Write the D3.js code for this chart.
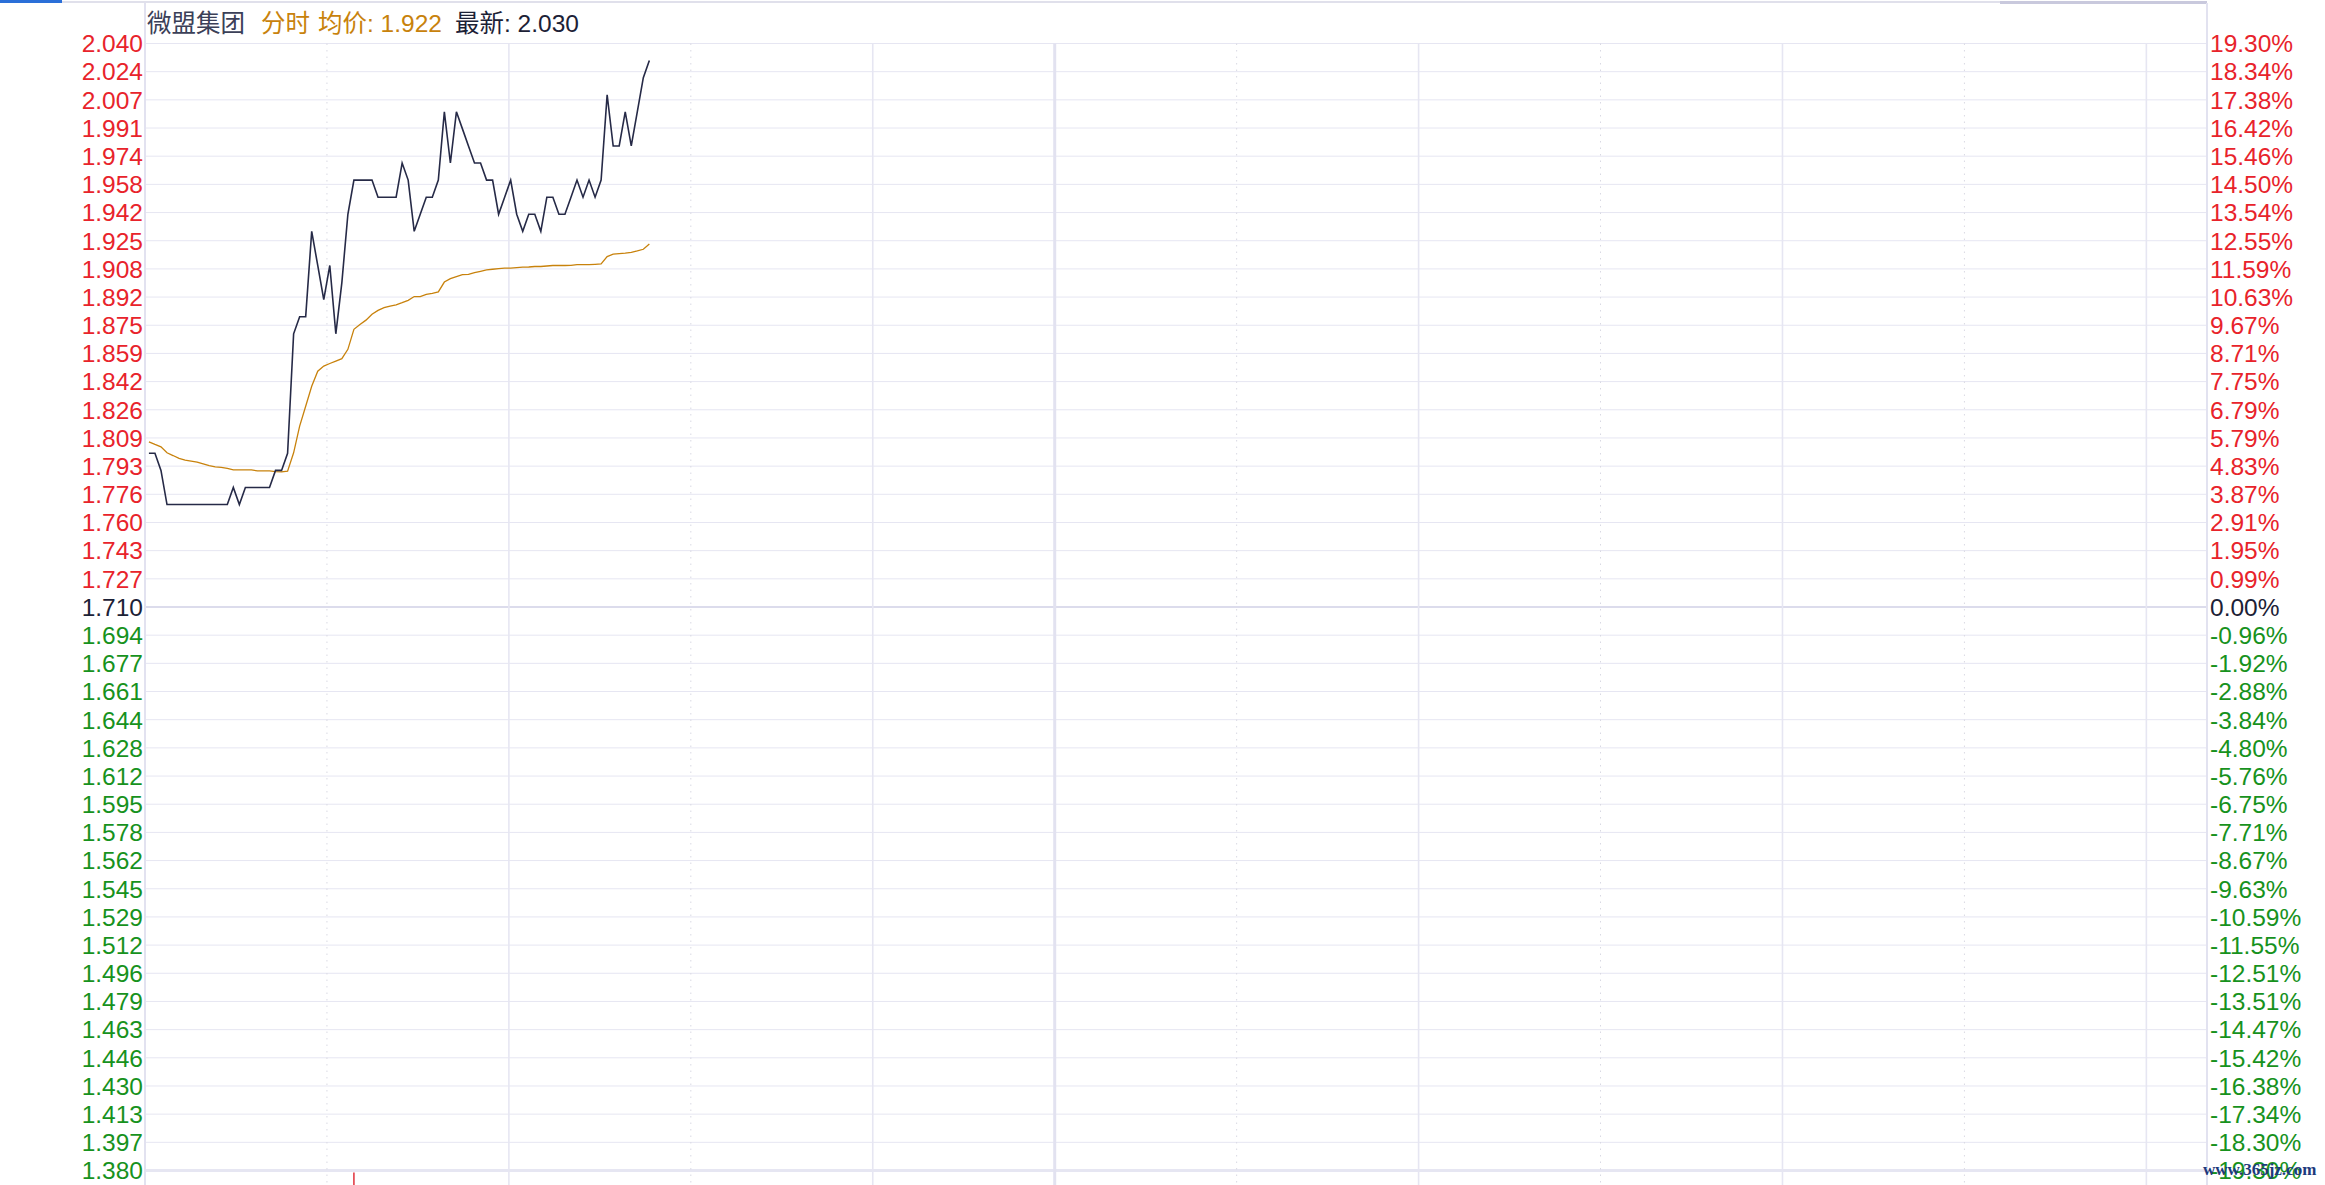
<!DOCTYPE html>
<html><head><meta charset="utf-8">
<script src="https://cdn.jsdelivr.net/npm/d3@7"></script>
<style>html,body{margin:0;padding:0;background:#fff;}svg{display:block}</style>
</head><body>
<svg id="chart" width="2325" height="1185"></svg>
<script>
// ---------- data ----------
const stockName = "微盟集团";
const modeLabel = "分时";
const avgLabel = "均价";
const lastLabel = "最新";
const prevClose = 1.710;
const avgLast = "1.922";
const priceLast = "2.030";

const priceTicks = ["2.040","2.024","2.007","1.991","1.974","1.958","1.942","1.925","1.908","1.892",
  "1.875","1.859","1.842","1.826","1.809","1.793","1.776","1.760","1.743","1.727","1.710",
  "1.694","1.677","1.661","1.644","1.628","1.612","1.595","1.578","1.562","1.545","1.529",
  "1.512","1.496","1.479","1.463","1.446","1.430","1.413","1.397","1.380"];
const pctTicks = ["19.30%","18.34%","17.38%","16.42%","15.46%","14.50%","13.54%","12.55%","11.59%","10.63%",
  "9.67%","8.71%","7.75%","6.79%","5.79%","4.83%","3.87%","2.91%","1.95%","0.99%","0.00%",
  "-0.96%","-1.92%","-2.88%","-3.84%","-4.80%","-5.76%","-6.75%","-7.71%","-8.67%","-9.63%","-10.59%",
  "-11.55%","-12.51%","-13.51%","-14.47%","-15.42%","-16.38%","-17.34%","-18.30%","-19.30%"];

// trading minutes since 09:30 (lunch break collapsed)
const solidTimes = [60, 120, 210, 270, 330];   // 10:30 11:30 14:00 15:00 16:00
const dottedTimes = [30, 90, 180, 240, 300];   // 10:00 11:00 13:30 14:30 15:30
const lunchTime = [150];                       // 12:00 / 13:00
const sessionMinutes = 340;                    // 09:30-12:00 + 13:00-16:10

const price = [1.80,1.80,1.79,1.77,1.77,1.77,1.77,1.77,1.77,1.77,1.77,1.77,1.77,1.77,
  1.78,1.77,1.78,1.78,1.78,1.78,1.78,
  1.79,1.79,1.80,1.87,1.88,1.88,1.93,1.91,1.89,1.91,1.87,1.90,1.94,
  1.96,1.96,1.96,1.96,1.95,1.95,1.95,1.95,1.97,1.96,1.93,1.94,1.95,1.95,1.96,
  2.00,1.97,2.00,1.99,1.98,1.97,1.97,1.96,1.96,1.94,1.95,1.96,1.94,1.93,
  1.94,1.94,1.93,1.95,1.95,1.94,1.94,1.95,1.96,1.95,1.96,1.95,1.96,
  2.01,1.98,1.98,2.00,1.98,2.00,2.02,2.03];

const avgPrice = [1.8067,1.8052,1.8038,1.8003,1.7987,1.7970,1.7960,1.7954,1.7948,1.7938,
  1.7928,1.7920,1.7918,1.7912,1.7903,1.7903,1.7903,1.7903,1.7897,1.7897,
  1.7897,1.7893,1.7891,1.7895,1.8003,1.8159,1.8276,1.8393,1.8481,1.8511,
  1.8526,1.8540,1.8554,1.8609,1.8726,1.8755,1.8780,1.8814,1.8837,1.8853,
  1.8862,1.8870,1.8882,1.8896,1.8918,1.8918,1.8931,1.8937,1.8945,1.9003,
  1.9023,1.9035,1.9047,1.9048,1.9058,1.9066,1.9074,1.9078,1.9082,1.9084,
  1.9085,1.9088,1.9090,1.9091,1.9094,1.9094,1.9097,1.9100,1.9100,1.9100,
  1.9101,1.9105,1.9105,1.9105,1.9107,1.9109,1.9152,1.9166,1.9170,1.9172,
  1.9177,1.9185,1.9195,1.9226];

const volumePeeks = [34]; // volume bar reaching into view below the price pane

// ---------- layout ----------
const W = 2325, H = 1185;
const L = 145, R = 2207, T = 43.5, B = 1170.5;
const RED = "#e8232b", GREEN = "#17921d", DARK = "#1c2136", ORANGE = "#c8820c";
const GRID = "#e6e6f2";
const FONT = "'Liberation Sans', Arial, 'Noto Sans CJK SC', sans-serif";

const svg = d3.select("#chart");
const y = d3.scaleLinear().domain([1.380, 2.040]).range([B, T]);
const yRow = d3.scalePoint().domain(priceTicks).range([T, B]);
const tX = d3.scaleLinear().domain([0, sessionMinutes]).range([L, R]);
const iX = d3.scaleLinear().domain([-0.65, sessionMinutes + 1.35]).range([L, R]);

// top strip
svg.append("line").attr("x1", 0).attr("x2", R).attr("y1", 2).attr("y2", 2)
  .attr("stroke", "#d6d6e4").attr("stroke-width", 1.5);
svg.append("line").attr("x1", 2000).attr("x2", R).attr("y1", 2.5).attr("y2", 2.5)
  .attr("stroke", "#c9c9dd").attr("stroke-width", 3);
svg.append("rect").attr("x", 0).attr("y", 0).attr("width", 62).attr("height", 3).attr("fill", "#2a6fd8");

// horizontal grid
svg.append("g").selectAll("line").data(priceTicks).join("line")
  .attr("x1", L).attr("x2", R)
  .attr("y1", d => yRow(d)).attr("y2", d => yRow(d))
  .attr("stroke", (d, i) => (i === 20 ? "#dcdcec" : GRID))
  .attr("stroke-width", (d, i) => (i === 20 ? 2 : (i === priceTicks.length - 1 ? 3 : 1)));

// vertical grid
const vg = svg.append("g");
vg.selectAll("line.s").data(solidTimes).join("line").attr("class", "s")
  .attr("x1", d => tX(d)).attr("x2", d => tX(d)).attr("y1", T).attr("y2", H)
  .attr("stroke", GRID).attr("stroke-width", 1.6);
vg.selectAll("line.l").data(lunchTime).join("line").attr("class", "l")
  .attr("x1", d => tX(d)).attr("x2", d => tX(d)).attr("y1", T).attr("y2", H)
  .attr("stroke", "#e2e2f0").attr("stroke-width", 3);
vg.selectAll("line.d").data(dottedTimes).join("line").attr("class", "d")
  .attr("x1", d => tX(d)).attr("x2", d => tX(d)).attr("y1", T).attr("y2", H)
  .attr("stroke", "#d9d9e3").attr("stroke-width", 1).attr("stroke-dasharray", "1.5,5");
// axis borders
vg.selectAll("line.b").data([0, sessionMinutes]).join("line").attr("class", "b")
  .attr("x1", d => tX(d)).attr("x2", d => tX(d)).attr("y1", 3).attr("y2", H)
  .attr("stroke", "#e2e2f0").attr("stroke-width", 2);

// volume bar peek
svg.append("g").selectAll("line").data(volumePeeks).join("line")
  .attr("x1", d => iX(d)).attr("x2", d => iX(d)).attr("y1", B + 2).attr("y2", H)
  .attr("stroke", "#e0303a").attr("stroke-width", 1.5);

// tick labels
function colorFor(i) { return i < 20 ? RED : (i === 20 ? DARK : GREEN); }
svg.append("g").selectAll("text").data(priceTicks).join("text")
  .attr("x", L - 2).attr("y", d => yRow(d)).attr("dy", "0.36em")
  .attr("text-anchor", "end").attr("font-family", FONT).attr("font-size", 24.5)
  .attr("fill", (d, i) => colorFor(i)).text(d => d);
svg.append("g").selectAll("text").data(pctTicks).join("text")
  .attr("x", R + 3).attr("y", (d, i) => yRow(priceTicks[i])).attr("dy", "0.36em")
  .attr("text-anchor", "start").attr("font-family", FONT).attr("font-size", 24.5)
  .attr("fill", (d, i) => colorFor(i)).text(d => d);

// lines
const lineGen = d3.line().x((d, i) => iX(i)).y(d => y(d));
svg.append("path").datum(avgPrice).attr("d", lineGen)
  .attr("fill", "none").attr("stroke", ORANGE).attr("stroke-width", 1.3);
svg.append("path").datum(price).attr("d", lineGen)
  .attr("fill", "none").attr("stroke", "#262a47").attr("stroke-width", 1.6)
  .attr("stroke-linejoin", "miter");

// header
const hdr = svg.append("g").attr("font-family", FONT).attr("font-size", 24.5);
const hy = 32;
hdr.append("text").attr("x", 147).attr("y", hy).attr("fill", "#3b4058").text(stockName);
hdr.append("text").attr("x", 261).attr("y", hy).attr("fill", ORANGE).text(modeLabel);
hdr.append("text").attr("x", 318).attr("y", hy).attr("fill", ORANGE).text(avgLabel + ": " + avgLast);
hdr.append("text").attr("x", 455).attr("y", hy).attr("fill", DARK).text(lastLabel + ": " + priceLast);

// watermark
svg.append("text").attr("x", 2203).attr("y", 1175)
  .attr("font-family", "'Liberation Serif', 'DejaVu Serif', serif").attr("font-weight", "bold")
  .attr("font-size", 17).attr("fill", "#1d3a7c").text("www.365jz.com");
</script>
</body></html>
